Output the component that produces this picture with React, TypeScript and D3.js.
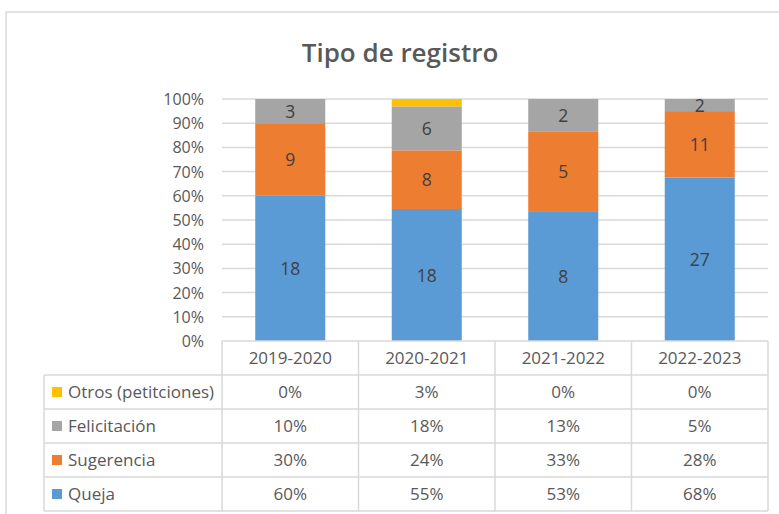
import React from "react";
import * as d3 from "d3";

const categories = ["2019-2020", "2020-2021", "2021-2022", "2022-2023"];
const queja = [18, 18, 8, 27];
const sugerencia = [9, 8, 5, 11];
const felicitacion = [3, 6, 2, 2];
const otros = [0, 1, 0, 0];
const yTicks = [0, 0.1, 0.2, 0.3, 0.4, 0.5, 0.6, 0.7, 0.8, 0.9, 1];

const seriesDefs = [
  { name: "Queja", values: queja, color: "#5B9BD5", label: true },
  { name: "Sugerencia", values: sugerencia, color: "#ED7D31", label: true },
  { name: "Felicitación", values: felicitacion, color: "#A5A5A5", label: true },
  { name: "Otros (petitciones)", values: otros, color: "#FFC000", label: false },
];

const FONT = "'Open Sans', 'Noto Sans', sans-serif";
const TXT = "#595959";
const GRID = "#D9D9D9";

export default function App() {
  const W = 779, H = 514;
  const left = 222, right = 768, top = 99, bottom = 341;
  const x = d3.scaleBand<string>().domain(categories).range([left, right]).padding(0);
  const y = d3.scaleLinear().domain([0, 1]).range([bottom, top]);
  const barW = x.bandwidth() * 0.513;

  const totals = categories.map((_, i) => seriesDefs.reduce((s, d) => s + d.values[i], 0));
  const stack = d3.stack<any>().keys(seriesDefs.map((d) => d.name)).offset(d3.stackOffsetExpand);
  const rows = categories.map((c, i) => {
    const o: any = { cat: c };
    seriesDefs.forEach((s) => (o[s.name] = s.values[i]));
    return o;
  });
  const stacked = stack(rows);

  const headerTop = bottom, headerBot = 375, rowH = 34;
  const tableRows = [...seriesDefs].reverse();
  const legendLeft = 44;
  const tableBottom = headerBot + rowH * tableRows.length;

  return (
    <svg width={W} height={H} style={{ position: "absolute", left: 0, top: 0, fontFamily: FONT }}>
      <rect x={0} y={0} width={W} height={H} fill="#fff" />
      <rect x={6} y={12} width={820} height={560} fill="none" stroke={GRID} strokeWidth={1.5} />
      <text x={400} y={62} textAnchor="middle" fontSize={26} fontWeight={600} fill={TXT}>
        Tipo de registro
      </text>
      {yTicks.map((t) => (
        <g key={t}>
          {t > 0 && <line x1={left} x2={right} y1={y(t)} y2={y(t)} stroke={GRID} strokeWidth={1.5} />}
          <text x={204} y={y(t) + 6} textAnchor="end" fontSize={16} fill={TXT}>
            {`${Math.round(t * 100)}%`}
          </text>
        </g>
      ))}
      {stacked.map((layer, si) => (
        <g key={layer.key}>
          {layer.map((seg, ci) => {
            const cx = (x(categories[ci]) as number) + x.bandwidth() / 2;
            const y0 = y(seg[0]), y1 = y(seg[1]);
            const h = y0 - y1;
            return (
              <g key={ci}>
                {h > 0 && (
                  <rect x={cx - barW / 2} y={y1} width={barW} height={h} fill={seriesDefs[si].color} />
                )}
                {h > 0 && seriesDefs[si].label && (
                  <text x={cx} y={(y0 + y1) / 2 + 6.5} textAnchor="middle" fontSize={17.5} fill="#404040">
                    {seriesDefs[si].values[ci]}
                  </text>
                )}
              </g>
            );
          })}
        </g>
      ))}
      <g stroke={GRID} strokeWidth={1.5} fill="none">
        <line x1={left} x2={right} y1={headerTop} y2={headerTop} />
        <line x1={legendLeft} x2={right} y1={headerBot} y2={headerBot} />
        {tableRows.map((_, r) => (
          <line key={r} x1={legendLeft} x2={right} y1={headerBot + rowH * (r + 1)} y2={headerBot + rowH * (r + 1)} />
        ))}
        <line x1={legendLeft} x2={legendLeft} y1={headerBot} y2={tableBottom} />
        {categories.map((c) => (
          <line key={c} x1={x(c) as number} x2={x(c) as number} y1={headerTop} y2={tableBottom} />
        ))}
        <line x1={right} x2={right} y1={headerTop} y2={tableBottom} />
      </g>
      {categories.map((cat) => (
        <text key={cat} x={(x(cat) as number) + x.bandwidth() / 2} y={(headerTop + headerBot) / 2 + 6} textAnchor="middle" fontSize={17} fill={TXT}>
          {cat}
        </text>
      ))}
      {tableRows.map((s, r) => {
        const cy = headerBot + rowH * r + rowH / 2;
        return (
          <g key={s.name}>
            <rect x={52} y={cy - 5} width={10} height={10} fill={s.color} />
            <text x={68} y={cy + 6} fontSize={17} fill={TXT}>
              {s.name}
            </text>
            {categories.map((c, i) => (
              <text key={c} x={(x(c) as number) + x.bandwidth() / 2} y={cy + 6} textAnchor="middle" fontSize={17} fill={TXT}>
                {`${Math.round((s.values[i] / totals[i]) * 100)}%`}
              </text>
            ))}
          </g>
        );
      })}
    </svg>
  );
}
